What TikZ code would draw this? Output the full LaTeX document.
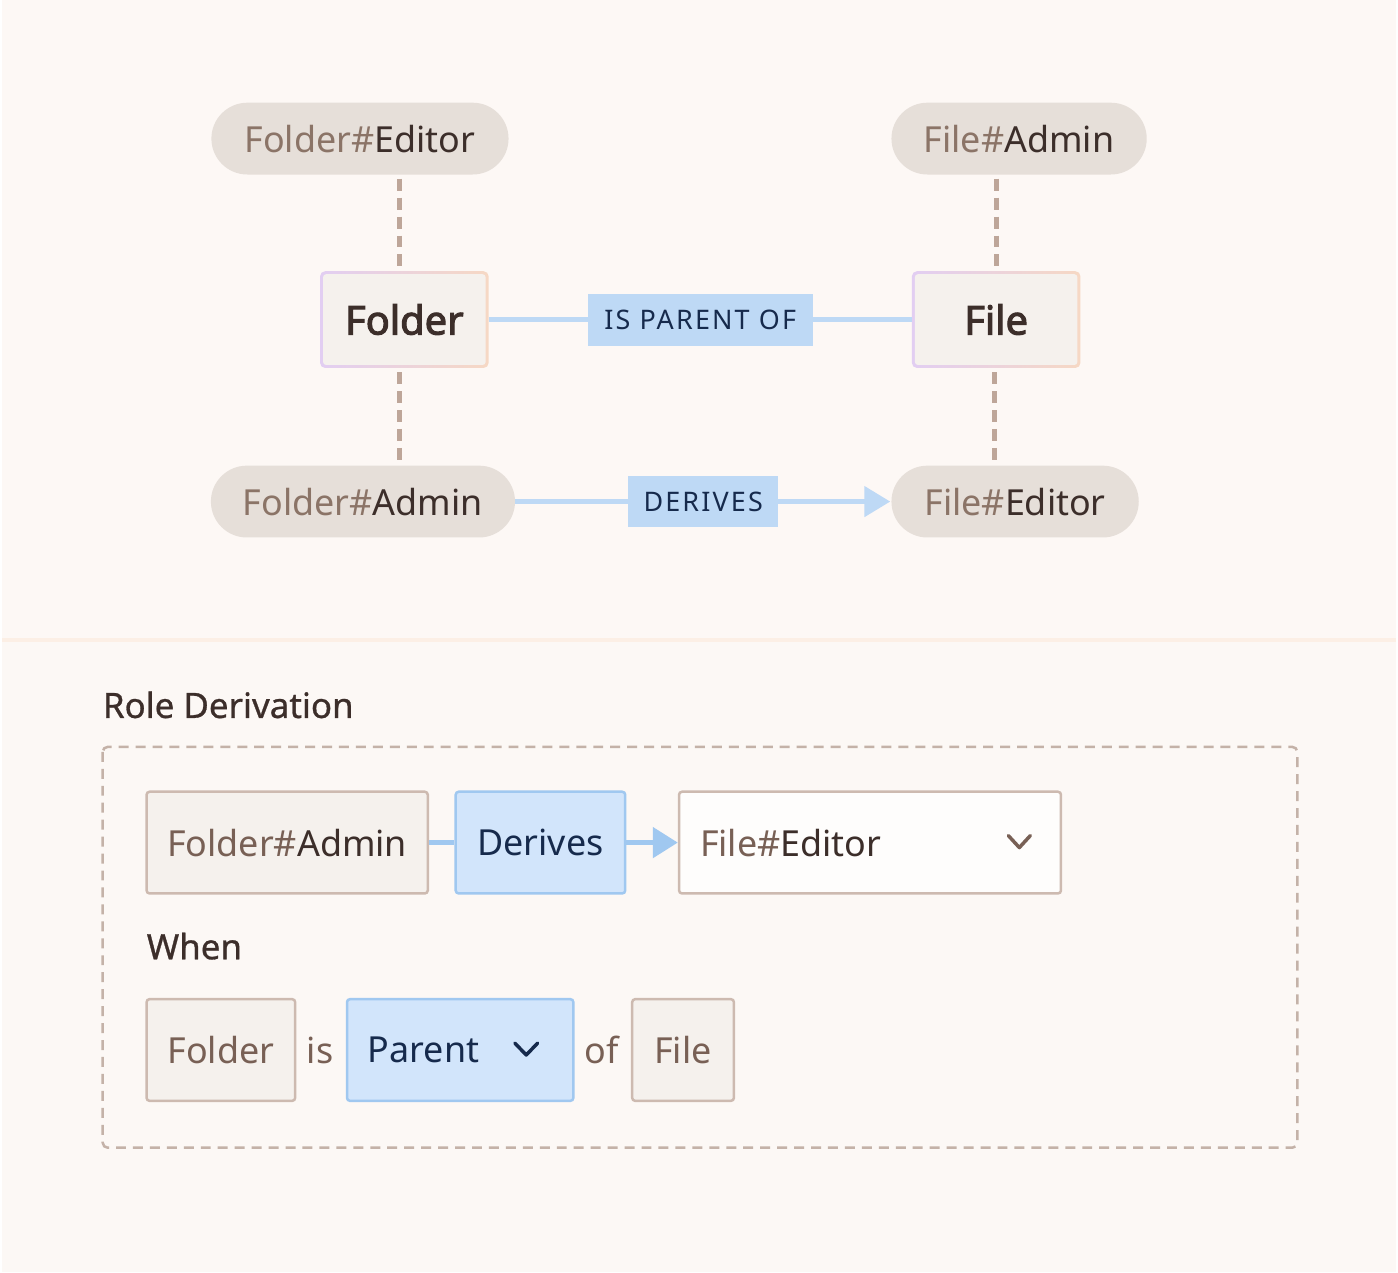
\documentclass[tikz,border=0pt]{standalone}
\usepackage{fontspec}
\setmainfont{Noto Sans}
\newfontfamily\capsfont[LetterSpace=8]{Noto Sans}
\newfontfamily\entityfont[FakeBold=2.6]{Noto Sans}
\newfontfamily\mediumfont[FakeBold=0.8]{Noto Sans}
\usetikzlibrary{positioning}
\usetikzlibrary{arrows.meta}
\definecolor{bgtop}{RGB}{253,248,245}
\definecolor{bgbottom}{RGB}{252,248,245}
\definecolor{rulecol}{RGB}{252,239,229}
\definecolor{pillcol}{RGB}{230,223,217}
\definecolor{greytext}{RGB}{139,116,103}
\definecolor{browntext}{RGB}{120,96,85}
\definecolor{darktext}{RGB}{60,46,42}
\definecolor{relblue}{RGB}{190,217,245}
\definecolor{navy}{RGB}{22,42,76}
\definecolor{tiecol}{RGB}{190,166,153}
\definecolor{boxfill}{RGB}{245,241,237}
\definecolor{lilac}{RGB}{226,206,242}
\definecolor{peach}{RGB}{246,216,196}
\definecolor{fieldline}{RGB}{205,186,176}
\definecolor{choicefill}{RGB}{210,229,251}
\definecolor{choiceline}{RGB}{160,200,240}
\definecolor{whitefill}{RGB}{254,253,252}
\definecolor{framecol}{RGB}{196,178,168}

\begin{document}
\begin{tikzpicture}[x=1pt,y=-1pt]
        \tikzstyle{pill}=[rectangle, rounded corners=36pt, fill=pillcol, minimum height=72pt, inner sep=0pt, text=greytext, font=\fontsize{36}{40}\selectfont]
        \tikzstyle{entity}=[rectangle, rounded corners=5pt, left color=lilac, right color=peach, minimum width=169pt, minimum height=97pt, text=darktext, font=\entityfont\fontsize{40}{44}\selectfont,
            path picture={\fill[boxfill, rounded corners=3pt] ([shift={(3pt,3pt)}]path picture bounding box.south west) rectangle ([shift={(-3pt,-3pt)}]path picture bounding box.north east);}]
        \tikzstyle{relation}=[rectangle, fill=relblue, text=navy, minimum height=52pt, inner sep=0pt, font=\capsfont\fontsize{27}{30}\selectfont]
        \tikzstyle{link}=[draw=relblue, line width=5pt]
        \tikzstyle{tie}=[draw=tiecol, line width=5pt, dash pattern=on 12pt off 7pt, shorten <=4pt, shorten >=3pt]
        \tikzstyle{field}=[rectangle, rounded corners=3pt, draw=fieldline, line width=2.5pt, fill=boxfill, minimum height=102pt, inner sep=0pt, text=browntext, font=\fontsize{36}{40}\selectfont]
        \tikzstyle{choice}=[field, draw=choiceline, fill=choicefill, text=navy]
        \tikzstyle{flow}=[draw=choiceline, line width=5pt]
        \tikzstyle{word}=[inner sep=0pt, text=browntext, font=\fontsize{36}{40}\selectfont]
        \tikzstyle{heading}=[inner sep=0pt, anchor=base west, text=darktext, font=\mediumfont\fontsize{35}{40}\selectfont]
        \tikzstyle{chevron}=[line width=3.5pt, line cap=round, line join=round]

        % Backdrop of both panels
        \fill[bgtop] (0,0) rectangle (1398,641);
        \fill[bgbottom] (0,641) rectangle (1398,1276);
        \draw[rulecol, line width=4pt] (0,642) -- (1398,642);
        \useasboundingbox (0,0) rectangle (1398,1276);

        % Draw the role pills
        \node[pill, minimum width=298pt] (FolderEditor) at (359,139) {Folder\#{\color{darktext}Editor}};
        \node[pill, minimum width=256pt] (FileAdmin) at (1020,139) {File\#{\color{darktext}Admin}};
        \node[pill, minimum width=305pt] (FolderAdmin) at (362,503) {Folder\#{\color{darktext}Admin}};
        \node[pill, minimum width=248pt] (FileEditor) at (1016,503) {File\#{\color{darktext}Editor}};

        % Draw the resource types
        \node[entity] (Folder) at (403.5,320.5) {Folder};
        \node[entity] (File) at (997,320.5) {File};

        % Connect roles with their types
        \draw[tie, transform canvas={xshift=-5pt}] (FolderEditor.south -| Folder.north) -- (Folder.north);
        \draw[tie, transform canvas={xshift=-5pt}] (Folder.south) -- (FolderAdmin.north -| Folder.south);
        \draw[tie] (FileAdmin.south -| File.north) -- (File.north);
        \draw[tie, transform canvas={xshift=-2pt}] (File.south) -- (FileEditor.north -| File.south);

        % Relations between the types and roles
        \draw[link] (Folder) -- node[relation, minimum width=226pt] (parentof) {IS PARENT OF} (File);
        \draw[link, -{Triangle[length=26pt,width=30pt]}, shorten >=1pt] (FolderAdmin) -- node[relation, minimum width=150pt] (derives) {DERIVES} (FileEditor);

        % Annotate the rule panel
        \node[heading] (title) at (101,720) {Role Derivation};
        \draw[framecol, line width=2.5pt, dash pattern=on 10pt off 7pt, rounded corners=5pt] (101,749) rectangle (1299,1151);

        % Draw the derivation row
        \node[field, minimum width=282pt] (R-1) at (286,845) {Folder\#{\color{darktext}Admin}};
        \node[choice, minimum width=170pt] (R-2) at (540,845) {Derives};
        \node[field, fill=whitefill, text width=341pt, inner xsep=21pt, align=left] (R-3) at (870.5,845) {File\#{\color{darktext}Editor}};
        \draw[flow] (R-1) -- (R-2);
        \draw[flow, -{Triangle[length=25pt,width=30pt]}] (R-2) -- (R-3);
        \draw[chevron, browntext] ([shift={(-54pt,7pt)}]R-3.east) -- ++(11pt,-12pt) -- ++(11pt,12pt);

        % Draw the condition row
        \node[heading] (when) at (145,962) {When};
        \node[field, minimum width=149pt] (C-1) at (219.5,1053) {Folder};
        \node[word] (C-2) at (319,1053) {is};
        \node[choice, text width=185pt, inner xsep=21pt, align=left] (C-3) at (459.5,1053) {Parent};
        \node[word] (C-4) at (601.5,1053) {of};
        \node[field, minimum width=102pt] (C-5) at (683,1053) {File};
        \draw[chevron, navy] ([shift={(-60pt,7pt)}]C-3.east) -- ++(11.5pt,-12pt) -- ++(11.5pt,12pt);

\end{tikzpicture}
\end{document}
